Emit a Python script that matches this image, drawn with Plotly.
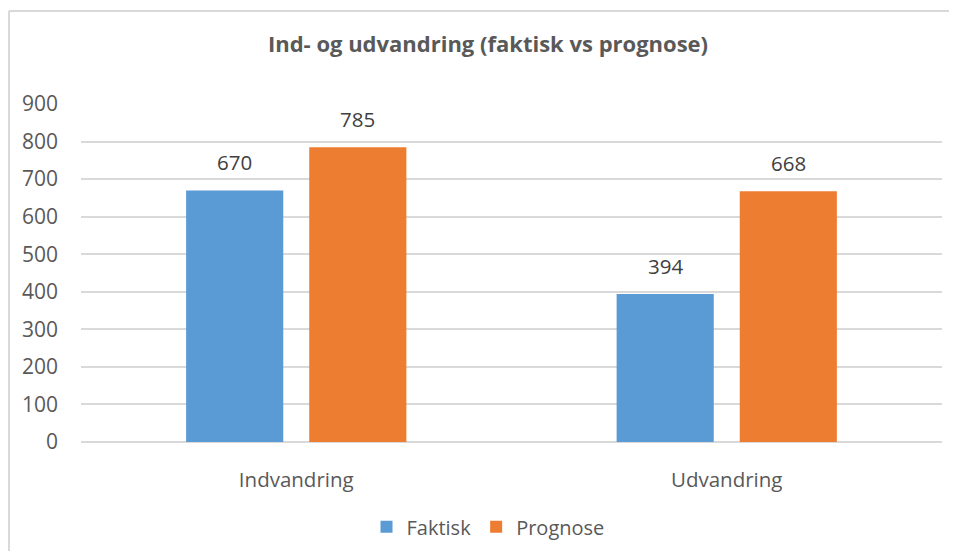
import plotly.graph_objects as go

categories = ["Indvandring", "Udvandring"]
faktisk = [670, 394]
prognose = [785, 668]
series_names = ["Faktisk", "Prognose"]
y_ticks = [0, 100, 200, 300, 400, 500, 600, 700, 800, 900]

FONT = "Open Sans"
TXT = "#595959"

fig = go.Figure()
fig.add_trace(go.Bar(name=series_names[0], x=categories, y=faktisk,
                     marker=dict(color="#5B9BD5", line=dict(width=0))))
fig.add_trace(go.Bar(name=series_names[1], x=categories, y=prognose,
                     marker=dict(color="#ED7D31", line=dict(width=0))))

# data labels above bars
for vals, shift in ((faktisk, -61.5), (prognose, 61.5)):
    for c, v in zip(categories, vals):
        fig.add_annotation(x=c, y=v, xref="x", yref="y", text=str(v),
                           showarrow=False, xshift=shift, yshift=28,
                           yanchor="middle",
                           font=dict(family=FONT, size=20.5, color="#404040"))

# chart border (top and left visible)
fig.add_shape(type="line", xref="paper", yref="paper",
              x0=-0.0836, x1=1.2, y0=1.275, y1=1.275,
              line=dict(color="#D9D9D9", width=2))
fig.add_shape(type="line", xref="paper", yref="paper",
              x0=-0.0836, x1=-0.0836, y0=-0.5, y1=1.275,
              line=dict(color="#D9D9D9", width=2))

W, H = 949, 543
fig.update_layout(
    width=W, height=H,
    margin=dict(l=73, r=15, t=96, b=109, autoexpand=False),
    paper_bgcolor="white", plot_bgcolor="white",
    barmode="group", bargap=0.428, bargroupgap=0.211,
    title=dict(text="<b>Ind- og udvandring (faktisk vs prognose)</b>",
               x=(488 - 8) / W, xref="container", xanchor="center",
               y=1 - (44 - 8) / H, yref="container", yanchor="middle",
               font=dict(family=FONT, size=22, color=TXT)),
    legend=dict(orientation="h", x=(488 - 8) / W, xref="container",
                xanchor="center", y=-0.251, yanchor="middle",
                font=dict(family=FONT, size=20, color=TXT),
                itemwidth=30),
    font=dict(family=FONT, color=TXT),
)
fig.update_xaxes(showgrid=False, showline=False, ticks="",
                 tickfont=dict(family=FONT, size=20.5, color=TXT),
                 ticklabelstandoff=23, automargin=False)
fig.update_yaxes(range=[0, 900], tickvals=y_ticks, showgrid=True,
                 gridcolor="#D9D9D9", gridwidth=1.5, zeroline=True,
                 zerolinecolor="#D9D9D9", zerolinewidth=1.5,
                 showline=False, ticks="",
                 tickfont=dict(family=FONT, size=21, color=TXT),
                 ticklabelstandoff=22, automargin=False)

fig.write_html("out.html")
